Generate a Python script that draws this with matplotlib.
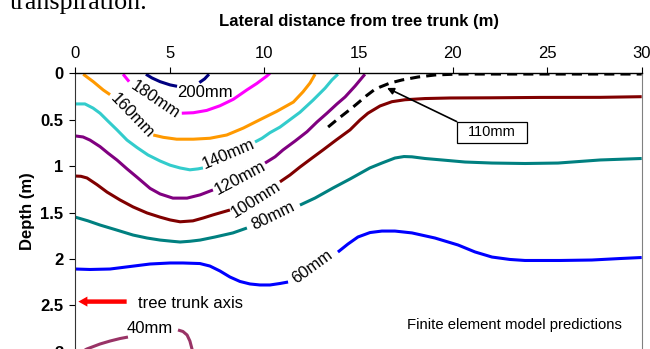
import matplotlib
matplotlib.use("Agg")
import matplotlib.pyplot as plt
from matplotlib.patches import Rectangle

plt.rcParams['font.family'] = ['Liberation Sans', 'DejaVu Sans']

# Contours of suction change (mm): lateral distance x (m) and depth d (m),
# each level split into pieces where its inline label sits.
levels = [200, 180, 160, 140, 120, 100, 80, 60, 40]

x_200 = [[3.74, 4.06, 4.49, 5.02, 5.39], [6.57, 6.85, 7.08]]
d_200 = [[0.01, 0.05, 0.09, 0.125, 0.14], [0.10, 0.06, 0.01]]

x_180 = [[2.53, 2.69, 2.85],
         [5.64, 6.25, 6.96, 7.66, 8.37, 9.08, 9.61, 10.14, 10.31]]
d_180 = [[0.01, 0.05, 0.09],
         [0.43, 0.425, 0.40, 0.35, 0.28, 0.18, 0.11, 0.03, 0.0]]

x_160 = [[0.42, 0.95, 1.48, 1.84],
         [4.13, 4.66, 5.37, 6.25, 7.13, 8.02, 8.90, 9.78, 10.67, 11.55, 12.06, 12.43, 12.70]]
d_160 = [[0.01, 0.09, 0.18, 0.23],
         [0.665, 0.69, 0.71, 0.71, 0.70, 0.665, 0.59, 0.50, 0.41, 0.31, 0.20, 0.105, 0.01]]

x_140 = [[0.0, 0.51, 0.94, 1.31, 1.73, 2.21, 2.74, 3.27, 3.85, 4.49, 5.02, 5.55, 6.07, 6.50, 6.76],
         [9.52, 9.89, 10.31, 10.84, 11.37, 11.90, 12.59, 13.23, 13.6, 13.91]]
d_140 = [[0.33, 0.33, 0.375, 0.43, 0.515, 0.61, 0.72, 0.80, 0.88, 0.945, 0.99, 1.02, 1.04, 1.03, 1.02],
         [0.74, 0.70, 0.64, 0.58, 0.50, 0.42, 0.29, 0.16, 0.07, 0.01]]

x_120 = [[0.0, 0.41, 0.78, 1.31, 1.73, 2.21, 2.74, 3.27, 3.96, 4.49, 5.17, 5.92, 6.61, 7.29],
         [10.05, 10.58, 11.0, 11.64, 12.27, 12.8, 13.33, 13.86, 14.29, 14.82, 15.34]]
d_120 = [[0.675, 0.686, 0.72, 0.79, 0.86, 0.935, 1.03, 1.12, 1.24, 1.30, 1.345, 1.345, 1.31, 1.257],
         [0.967, 0.90, 0.826, 0.73, 0.63, 0.525, 0.43, 0.33, 0.255, 0.137, 0.01]]

x_100 = [[0.0, 0.30, 0.62, 1.15, 1.68, 2.37, 3.06, 3.80, 4.49, 5.02, 5.55, 6.23, 6.76, 7.29, 8.19],
         [10.84, 11.37, 11.90, 12.54, 13.12, 13.81, 14.55, 15.08, 15.5, 16.14, 16.77,
          17.46, 18.52, 19.85, 21.97, 24.61, 27.8, 30.0]]
d_100 = [[1.107, 1.11, 1.128, 1.20, 1.28, 1.365, 1.44, 1.505, 1.55, 1.58, 1.60, 1.59, 1.56, 1.526, 1.473],
         [1.17, 1.096, 1.01, 0.913, 0.826, 0.72, 0.61, 0.503, 0.43, 0.352, 0.306,
          0.285, 0.272, 0.266, 0.264, 0.26, 0.259, 0.252]]

x_80 = [[0.0, 0.67, 1.31, 2.21, 3.06, 3.80, 4.49, 5.12, 5.55, 6.07, 6.61, 7.40, 8.35, 9.09],
        [11.90, 12.7, 13.65, 14.55, 15.6, 16.24, 16.93, 17.41, 17.83, 18.52, 19.42,
         20.64, 22.07, 23.82, 25.57, 27.8, 30.0]]
d_80 = [[1.55, 1.59, 1.635, 1.69, 1.743, 1.775, 1.797, 1.81, 1.818, 1.81, 1.797, 1.764, 1.72, 1.667],
        [1.42, 1.344, 1.236, 1.139, 1.02, 0.967, 0.913, 0.897, 0.90, 0.918, 0.934,
         0.956, 0.967, 0.972, 0.967, 0.934, 0.918]]

x_60 = [[0.0, 0.78, 1.84, 2.90, 3.96, 5.02, 5.70, 6.60, 7.13, 7.66, 8.19, 8.72, 9.25, 9.78, 10.31, 10.84, 11.27],
        [13.91, 14.44, 14.97, 15.61, 16.24, 16.93, 17.83, 19.05, 20.27, 21.17, 22.07,
         23.02, 23.82, 25.67, 27.36, 28.85, 30.0]]
d_60 = [[2.109, 2.114, 2.109, 2.082, 2.055, 2.044, 2.044, 2.05, 2.077, 2.13, 2.195, 2.243, 2.27, 2.281, 2.281, 2.265, 2.249],
        [1.926, 1.84, 1.764, 1.716, 1.70, 1.70, 1.72, 1.775, 1.85, 1.925, 1.98,
         2.006, 2.017, 2.017, 2.012, 1.996, 1.985]]

x_40 = [[0.0, 0.62, 1.31, 1.84, 2.37, 2.79], [5.44, 5.70, 5.92, 6.07, 6.18, 6.23]]
d_40 = [[3.035, 2.97, 2.917, 2.885, 2.858, 2.842], [2.766, 2.782, 2.82, 2.885, 2.97, 3.09]]

# Dashed 110 mm contour
level_dashed = 110
x_110 = [13.39, 13.86, 14.28, 14.65, 14.97, 15.4, 15.82, 16.14, 16.67, 17.3, 18.15, 19.05, 20.27, 30.0]
d_110 = [0.579, 0.50, 0.433, 0.374, 0.32, 0.245, 0.18, 0.148, 0.105, 0.072, 0.04, 0.018, 0.008, 0.008]

x_ticks = [0, 5, 10, 15, 20, 25, 30]
y_ticks = [0, 0.5, 1, 1.5, 2, 2.5, 3]
y_ticklabels = ['0', '0.5', '1', '1.5', '2', '2.5', '3']

contour_x = dict(zip(levels, [x_200, x_180, x_160, x_140, x_120, x_100, x_80, x_60, x_40]))
contour_d = dict(zip(levels, [d_200, d_180, d_160, d_140, d_120, d_100, d_80, d_60, d_40]))
contour_color = {200: '#000080', 180: '#FF00FF', 160: '#FF9900', 140: '#33CCCC',
                 120: '#800080', 100: '#800000', 80: '#008080', 60: '#0000FF', 40: '#993366'}
# inline label anchor (x, depth, rotation)
label_place = {200: (6.84, 0.21, 0), 180: (4.23, 0.29, -34), 160: (3.0, 0.46, -46),
               140: (8.11, 0.87, 23), 120: (8.73, 1.13, 28), 100: (9.58, 1.355, 32),
               80: (10.49, 1.54, 26), 60: (12.56, 2.08, 36), 40: (3.92, 2.75, 0)}

fig = plt.figure(figsize=(6.5, 3.49), dpi=100)
ax = fig.add_axes([0.11585, -0.14069, 0.87138, 0.93066])

for lvl in levels:
    for xs, ds in zip(contour_x[lvl], contour_d[lvl]):
        ax.plot(xs, ds, color=contour_color[lvl], lw=2.2, solid_capstyle='butt',
                solid_joinstyle='round')
    lx, ld, rot = label_place[lvl]
    ax.text(lx, ld, f'{lvl}mm', rotation=rot, rotation_mode='anchor',
            ha='center', va='center', fontsize=12, color='black')

ax.plot(x_110, d_110, color='black', lw=2.2, dashes=(3.3, 2.0), dash_capstyle='butt')

# boxed label for the dashed contour
ax.add_patch(Rectangle((20.2, 0.52), 3.74, 0.228, facecolor='white',
                       edgecolor='black', lw=0.9, zorder=4))
ax.text(22.07, 0.633, f'{level_dashed}mm', ha='center', va='center', fontsize=10.5, zorder=5)
ax.annotate('', xy=(16.51, 0.158), xytext=(20.2, 0.52),
            arrowprops=dict(arrowstyle='-|>', color='black', lw=1.2,
                            mutation_scale=10, shrinkA=0, shrinkB=0))

# tree trunk axis marker
ax.annotate('', xy=(0.16, 2.46), xytext=(2.72, 2.46),
            arrowprops=dict(arrowstyle='simple,head_length=0.45,head_width=0.5,tail_width=0.22',
                            fc='#FF0000', ec='none', lw=0, mutation_scale=14.5,
                            shrinkA=0, shrinkB=0))
ax.text(3.34, 2.53, 'tree trunk axis', fontsize=12, va='baseline', ha='left')
ax.text(17.59, 2.76, 'Finite element model predictions', fontsize=10.7, va='baseline', ha='left')

ax.set_xlim(0, 30)
ax.set_ylim(3.5, 0)
ax.xaxis.tick_top()
ax.xaxis.set_label_position('top')
ax.set_xticks(x_ticks)
ax.set_xticklabels([str(v) for v in x_ticks])
ax.set_yticks(y_ticks)
ax.set_yticklabels(y_ticklabels, fontweight='bold')
ax.tick_params(axis='x', top=True, bottom=False, direction='out', length=4,
               width=0.8, pad=5, labelsize=12)
ax.tick_params(axis='y', left=True, direction='out', length=4, width=0.8,
               pad=4.5, labelsize=12)

ax.set_xlabel('Lateral distance from tree trunk (m)', fontsize=12, fontweight='bold')
ax.xaxis.label.set_va('center')
ax.xaxis.set_label_coords(0.5, 1.161)
ax.set_ylabel('Depth (m)', fontsize=12, fontweight='bold')
ax.yaxis.label.set_va('center')
ax.yaxis.set_label_coords(-0.085, 0.5745)

ax.spines['bottom'].set_visible(False)
ax.spines['top'].set_color('black')
ax.spines['top'].set_linewidth(1.0)
ax.spines['left'].set_color('#333333')
ax.spines['left'].set_linewidth(0.8)
ax.spines['right'].set_color('#808080')
ax.spines['right'].set_linewidth(0.8)

# tail end of the preceding text line
fig.text(10 / 650, 1 - 8.5 / 349, 'transpiration.', family='Liberation Serif',
         fontsize=18.7, va='baseline', ha='left')

fig.savefig('out.png', dpi=100, facecolor='white')
